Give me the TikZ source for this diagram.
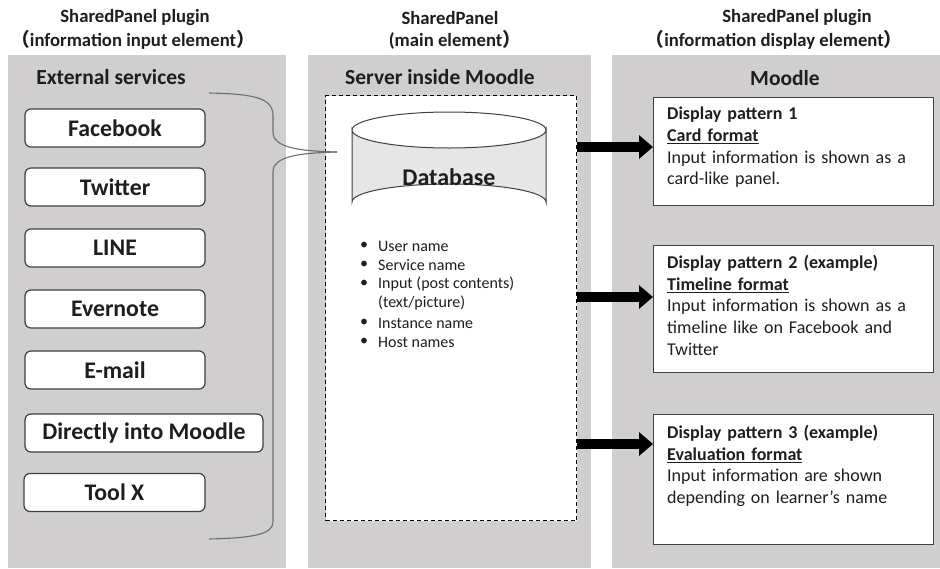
\documentclass[tikz,border=0pt]{standalone}
\usepackage{fontspec}
\setmainfont{Carlito}
\newfontfamily\cjk{Noto Sans CJK JP}
\usetikzlibrary{arrows.meta}
\definecolor{panelgray}{HTML}{D0CECE}
\definecolor{boxline}{HTML}{404040}
\definecolor{bracegray}{HTML}{6E6E6E}
\definecolor{dbfill}{HTML}{E6E6E6}
\definecolor{txt}{HTML}{1E1E1E}
\begin{document}
\begin{tikzpicture}[x=1pt,y=-1pt,
  every node/.style={text=txt, inner sep=0pt},
  header/.style={font=\fontsize{18.7}{20}\selectfont\bfseries},
  ptitle/.style={font=\fontsize{21.5}{24}\selectfont\bfseries},
  panelbox/.style={fill=panelgray, anchor=north west},
  svc/.style={draw=boxline, line width=1.2pt, fill=white, rounded corners=6pt,
    minimum height=38pt, font=\fontsize{23.8}{26}\selectfont\bfseries},
  dispbox/.style={draw=boxline, line width=1.2pt, fill=white, anchor=north west, minimum width=280pt},
  disptext/.style={anchor=north west, align=left, text width=265pt,
    font=\fontsize{18}{21.7}\selectfont},
  bul/.style={anchor=west, font=\fontsize{16}{18}\selectfont},
  bigarrow/.style={line width=10pt, -{Triangle[length=14pt,width=23pt]}},
  bracel/.style={draw=bracegray, line width=1.1pt}
]
\useasboundingbox (0,0) rectangle (940,568);
\fill[white] (0,0) rectangle (940,568);

% panels
\node[panelbox, minimum width=278pt, minimum height=513pt] (pl) at (8,55) {};
\node[panelbox, minimum width=283pt, minimum height=513pt] (pm) at (308,55) {};
\node[panelbox, minimum width=328pt, minimum height=513pt] (pr) at (612,55) {};

% headers
\node[header] (h1a) at (135,18) {SharedPanel plugin};
\node[header] (h1b) at (133,40) {{\cjk （}information input element{\cjk ）}};
\node[header] (h2a) at (450,18) {SharedPanel};
\node[header] (h2b) at (455,40) {(main element{\cjk ）}};
\node[header] (h3a) at (797,18) {SharedPanel plugin};
\node[header] (h3b) at (774,40) {{\cjk （}information display element{\cjk ）}};

% panel titles
\node[ptitle] (t1) at (111,77) {External services};
\node[ptitle] (t2) at (440,77) {Server inside Moodle};
\node[ptitle] (t3) at (785,78) {Moodle};

% services
\node[svc, minimum width=180pt] (fb) at (115,128) {Facebook};
\node[svc, minimum width=180pt] (tw) at (115,187) {Twitter};
\node[svc, minimum width=180pt] (li) at (115,248) {LINE};
\node[svc, minimum width=180pt] (ev) at (115,309) {Evernote};
\node[svc, minimum width=180pt] (em) at (115,370) {E-mail};
\node[svc, minimum width=238pt] (dm) at (144,433) {Directly into Moodle};
\node[svc, minimum width=181pt] (tx) at (114.5,492.5) {Tool X};

% dashed server box
\node[draw=black, line width=1pt, dash pattern=on 4pt off 3pt, fill=white,
  anchor=north west, minimum width=251pt, minimum height=425pt] (srv) at (325,95) {};

% brace
\coordinate (bt) at (209,93);
\coordinate (bb) at (209,539);
\coordinate (tip) at (337,152);
\draw[bracel] (bt) .. controls (255,94) and (273,98) .. (273,116)
  -- (273,132) .. controls (273,148) and (300,151) .. (tip);
\draw[bracel] (tip) .. controls (300,153) and (273,156) .. (273,172)
  -- (273,522) .. controls (273,535) and (250,538) .. (bb);

% database cylinder
\fill[dbfill, draw=boxline, line width=1pt]
  (352,130) -- (352,202) arc[start angle=180, end angle=360, x radius=97pt, y radius=-18pt]
  -- (546,130) arc[start angle=0, end angle=180, x radius=97pt, y radius=-18pt] -- cycle;
\draw[boxline, line width=1pt] (352,130) arc[start angle=180, end angle=360, x radius=97pt, y radius=-18pt];
\node[font=\fontsize{24}{26}\selectfont\bfseries] (db) at (449,177) {Database};

% bullets
\foreach \yy/\tt [count=\i] in {246/User name, 265/Service name, 284/Input (post contents), 323/Instance name, 342/Host names}{
  \node[bul] (bd\i) at (360,\yy) {\textbullet};
  \node[bul] (bt\i) at (378,\yy) {\tt};
}
\node[bul] (btx) at (378,303) {(text/picture)};

% display boxes
\node[dispbox, minimum height=108pt] (box1) at (653,97) {};
\node[dispbox, minimum height=127pt] (box2) at (653,245) {};
\node[dispbox, minimum height=130pt] (box3) at (653,414) {};

\node[disptext] (d1) at ([xshift=14pt,yshift=-10pt]box1.north west)
  {\textbf{Display pattern 1}\\\textbf{\underline{Card format}}\\Input information is shown as a\\card-like panel.};
\node[disptext] (d2) at ([xshift=14pt,yshift=-10pt]box2.north west)
  {\textbf{Display pattern 2 (example)}\\\textbf{\underline{Timeline format}}\\Input information is shown as a\\timeline like on Facebook and\\Twitter};
\node[disptext] (d3) at ([xshift=14pt,yshift=-11pt]box3.north west)
  {\textbf{Display pattern 3 (example)}\\\textbf{\underline{Evaluation format}}\\Input information are shown\\depending on learner’s name};

% arrows
\coordinate (y1) at (0,147);
\coordinate (y2) at (0,297);
\coordinate (y3) at (0,444);
\draw[bigarrow] (srv.east |- y1) -- (box1.west |- y1);
\draw[bigarrow] (srv.east |- y2) -- (box2.west |- y2);
\draw[bigarrow] (srv.east |- y3) -- (box3.west |- y3);
\end{tikzpicture}
\end{document}
